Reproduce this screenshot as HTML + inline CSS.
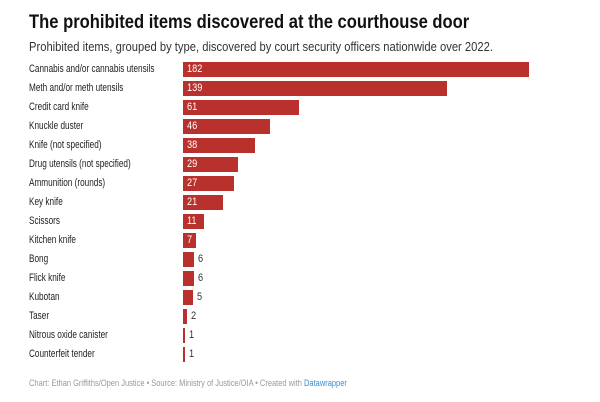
<!DOCTYPE html>
<html><head><meta charset="utf-8"><style>
body{margin:0;width:600px;height:402px;background:#fff;font-family:"Liberation Sans",sans-serif;position:relative;overflow:hidden}
.t{position:absolute;left:29px;top:11px;font-size:19.5px;font-weight:bold;color:#111;transform:scaleX(0.85);transform-origin:0 0;white-space:nowrap}
.s{position:absolute;left:29px;top:40px;font-size:12.6px;color:#333;transform:scaleX(0.89);transform-origin:0 0;white-space:nowrap}
.r{position:absolute;left:0;height:15px;width:600px}
.l{position:absolute;left:29px;top:1px;font-size:10.8px;color:#222;white-space:nowrap;transform:scaleX(0.76);transform-origin:0 0}
.b{position:absolute;left:183px;top:0;height:15px;background:#b8312d}
.v{position:absolute;top:1px;font-size:10.8px;transform:scaleX(0.85);transform-origin:0 0}
.f{position:absolute;left:29px;top:378px;font-size:9.6px;color:#999;transform:scaleX(0.78);transform-origin:0 0;white-space:nowrap}
.f span{color:#3a8ed6}
</style></head><body>
<div class="t">The prohibited items discovered at the courthouse door</div>
<div class="s">Prohibited items, grouped by type, discovered by court security officers nationwide over 2022.</div>
<div id="c"></div>
<div class="f">Chart: Ethan Griffiths/Open Justice • Source: Ministry of Justice/OIA • Created with <span>Datawrapper</span></div>
<script>
var d=[["Cannabis and/or cannabis utensils",182],["Meth and/or meth utensils",139],["Credit card knife",61],["Knuckle duster",46],["Knife (not specified)",38],["Drug utensils (not specified)",29],["Ammunition (rounds)",27],["Key knife",21],["Scissors",11],["Kitchen knife",7],["Bong",6],["Flick knife",6],["Kubotan",5],["Taser",2],["Nitrous oxide canister",1],["Counterfeit tender",1]];
var h="";d.forEach(function(x,i){var w=Math.max(2,x[1]*1.9);var y=62+i*19;
var inside=x[1]>=7;
h+='<div class="r" style="top:'+y+'px"><div class="l">'+x[0]+'</div><div class="b" style="width:'+w+'px"></div><div class="v" style="left:'+(inside?187:183+w+4)+'px;color:'+(inside?'#fff':'#333')+'">'+x[1]+'</div></div>';});
document.getElementById("c").innerHTML=h;
</script>
</body></html>
